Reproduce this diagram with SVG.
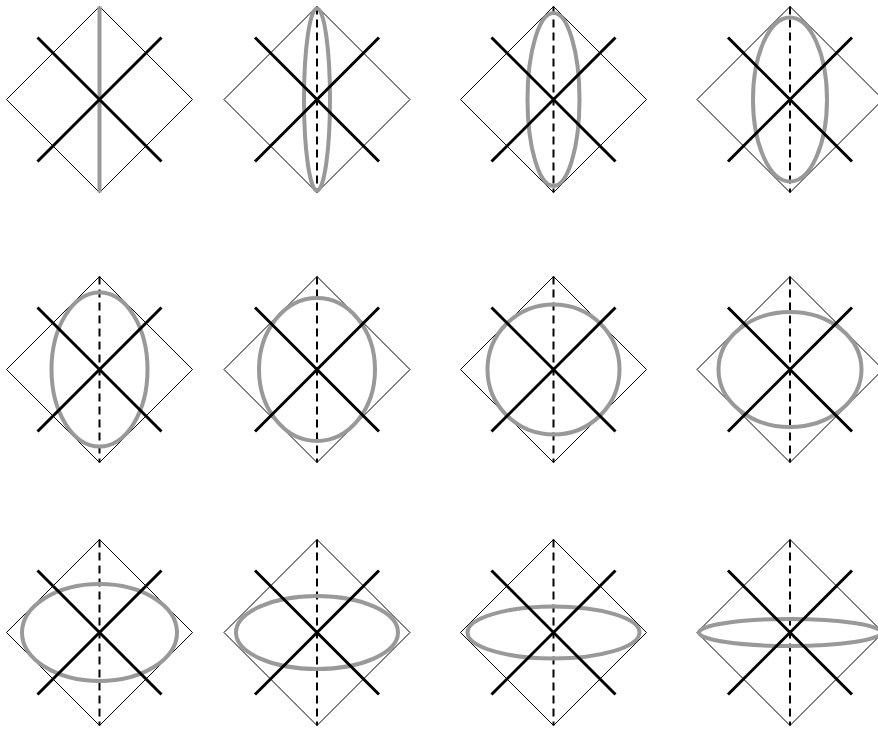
<svg xmlns="http://www.w3.org/2000/svg" xmlns:xlink="http://www.w3.org/1999/xlink" width="878" height="730" viewBox="0 0 878 730">
<style>
.dia{fill:none;stroke:#000;stroke-width:1}
.ax{stroke:#000;stroke-width:2;stroke-dasharray:8 5;fill:none}
.x{stroke:#000;stroke-width:3;fill:none}
.el{fill:none;stroke:#999;stroke-width:4}
</style>
<defs>
<polygon id="diamond" class="dia" points="0,-93 93,0 0,93 -93,0"/>
<line id="axis" class="ax" x1="0" y1="-93" x2="0" y2="93"/>
<g id="cross">
<line class="x" x1="-62" y1="-62" x2="62" y2="62"/>
<line class="x" x1="-62" y1="62" x2="62" y2="-62"/>
</g>
</defs>
<rect width="878" height="730" fill="#fff"/>
<g id="p1" transform="translate(99.5,99.5)">
<use xlink:href="#diamond"/>
<line class="el" x1="0" y1="-93" x2="0" y2="93"/>
<use xlink:href="#cross"/>
</g>
<g id="p2" transform="translate(317,99.5)">
<use xlink:href="#diamond"/><use xlink:href="#axis"/>
<ellipse class="el" cx="0" cy="0" rx="13" ry="91"/>
<use xlink:href="#cross"/>
</g>
<g id="p3" transform="translate(553.5,99.5)">
<use xlink:href="#diamond"/><use xlink:href="#axis"/>
<ellipse class="el" cx="0" cy="0" rx="26" ry="86.5"/>
<use xlink:href="#cross"/>
</g>
<g id="p4" transform="translate(790,99.5)">
<use xlink:href="#diamond"/><use xlink:href="#axis"/>
<ellipse class="el" cx="0" cy="0" rx="37" ry="82"/>
<use xlink:href="#cross"/>
</g>
<g id="p5" transform="translate(99.5,369.5)">
<use xlink:href="#diamond"/><use xlink:href="#axis"/>
<ellipse class="el" cx="0" cy="0" rx="48" ry="77"/>
<use xlink:href="#cross"/>
</g>
<g id="p6" transform="translate(317,369.5)">
<use xlink:href="#diamond"/><use xlink:href="#axis"/>
<ellipse class="el" cx="0" cy="0" rx="58" ry="71.5"/>
<use xlink:href="#cross"/>
</g>
<g id="p7" transform="translate(553.5,369.5)">
<use xlink:href="#diamond"/><use xlink:href="#axis"/>
<ellipse class="el" cx="0" cy="0" rx="66" ry="65"/>
<use xlink:href="#cross"/>
</g>
<g id="p8" transform="translate(790,369.5)">
<use xlink:href="#diamond"/><use xlink:href="#axis"/>
<ellipse class="el" cx="0" cy="0" rx="71.5" ry="57.5"/>
<use xlink:href="#cross"/>
</g>
<g id="p9" transform="translate(99.5,632.5)">
<use xlink:href="#diamond"/><use xlink:href="#axis"/>
<ellipse class="el" cx="0" cy="0" rx="77.5" ry="48.5"/>
<use xlink:href="#cross"/>
</g>
<g id="p10" transform="translate(317,632.5)">
<use xlink:href="#diamond"/><use xlink:href="#axis"/>
<ellipse class="el" cx="0" cy="0" rx="81" ry="36.5"/>
<use xlink:href="#cross"/>
</g>
<g id="p11" transform="translate(553.5,632.5)">
<use xlink:href="#diamond"/><use xlink:href="#axis"/>
<ellipse class="el" cx="0" cy="0" rx="86" ry="26"/>
<use xlink:href="#cross"/>
</g>
<g id="p12" transform="translate(790,632.5)">
<use xlink:href="#diamond"/><use xlink:href="#axis"/>
<ellipse class="el" cx="0" cy="0" rx="91" ry="13.5"/>
<use xlink:href="#cross"/>
</g>
</svg>
